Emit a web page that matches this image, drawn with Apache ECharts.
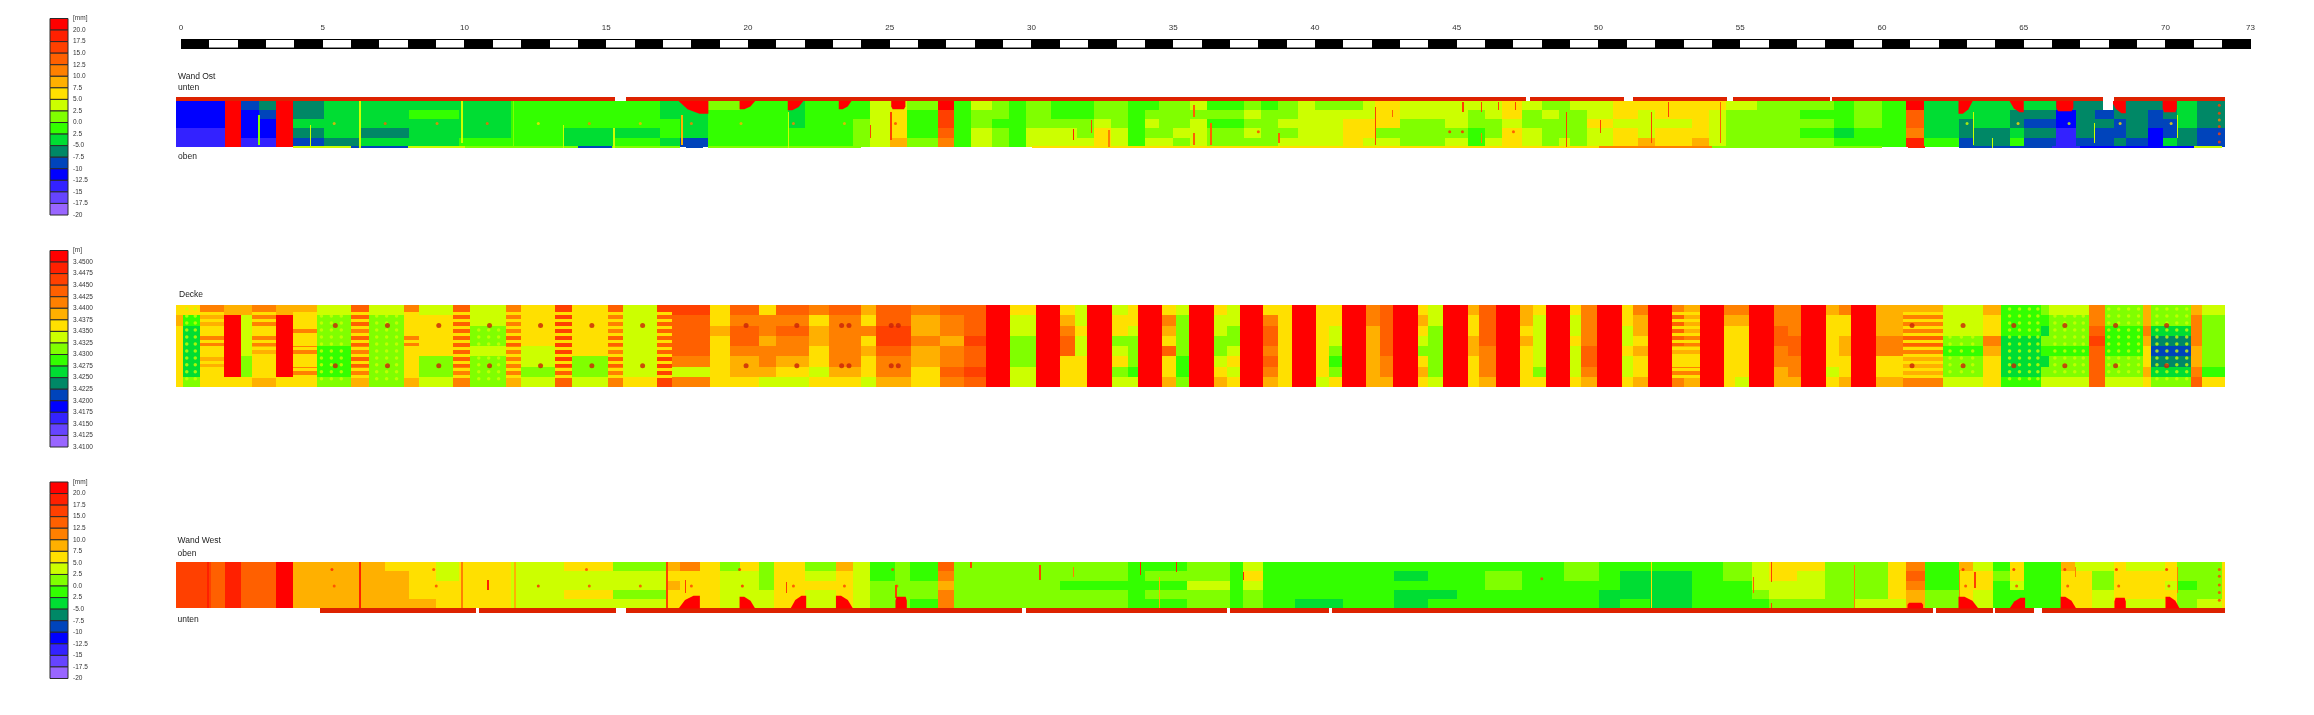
<!DOCTYPE html>
<html lang="de">

<head>
    <meta charset="UTF-8" />
    <title>Wand Ost / Decke / Wand West</title>
    <script src="https://cdn.jsdelivr.net/npm/echarts@6/dist/echarts.min.js"></script>
    <style>
        html, body { margin: 0; background: #fff; }
        #main { width: 2314px; height: 715px; }
    </style>
</head>

<body>
    <div id="main"></div>

    <script type="text/javascript">
        // colour classes, top of the legend first
        var palette = ['#ff0000', '#ff2000', '#ff4000', '#ff6000', '#ff8000', '#ffb000', '#ffe000', '#ccff00', '#80ff00',
            '#33ff00', '#00dd33', '#008866', '#0044bb', '#0000ff', '#3322ff', '#6644ff', '#9966ff'];
        var mmLabels = ['[mm]', '20.0', '17.5', '15.0', '12.5', '10.0', '7.5', '5.0', '2.5', '0.0', '2.5', '-5.0', '-7.5', '-10', '-12.5', '-15', '-17.5', '-20'];
        var mLabels = ['[m]', '3.4500', '3.4475', '3.4450', '3.4425', '3.4400', '3.4375', '3.4350', '3.4325', '3.4300', '3.4275', '3.4250', '3.4225', '3.4200', '3.4175', '3.4150', '3.4125', '3.4100'];
        var scaleLabels = [0, 5, 10, 15, 20, 25, 30, 35, 40, 45, 50, 55, 60, 65, 70, 73];
        var scaleWhite = [1, 3, 5, 7, 9, 11, 13, 15, 17, 19, 21, 23, 25, 27, 29, 31, 33, 35, 37, 39, 41, 43, 45, 47, 49, 51, 53, 55, 57, 59, 61, 63, 65, 67, 69, 71];

        // Wand Ost: [from m, to m, five values in mm from top to bottom]
        var ostColumns = [
            [-0.18, 1.55, -12.5, -12.5, -12.5, -15, -15], [1.55, 2.12, 20, 20, 20, 20, 20], [2.12, 2.75, -10, -12.5, -12.5, -12.5, -15],
            [2.75, 3.33, -7.5, -10, -12.5, -12.5, -15], [3.33, 3.93, 20, 20, 20, 20, 20], [3.93, 5.05, -7.5, -7.5, -5, -7.5, -10],
            [5.05, 6.28, -5, -5, -5, -5, -7.5], [6.28, 8.05, -5, -5, -5, -7.5, -5], [8.05, 9.8, -5, -2.5, -5, -5, -5],
            [9.8, 11.65, -5, -5, -5, -5, -2.5], [11.65, 13.5, -2.5, -2.5, -2.5, -2.5, -2.5], [13.5, 15.25, -2.5, -2.5, -2.5, -5, -5],
            [15.25, 16.9, -2.5, -2.5, -2.5, -5, -2.5], [16.9, 17.6, -5, -5, -2.5, -2.5, -5], [17.6, 18.6, -5, -5, -5, -5, -10],
            [18.6, 19.7, 0, -2.5, -2.5, -2.5, -2.5], [19.7, 20.4, -2.5, -2.5, -2.5, -2.5, -2.5], [20.4, 21.4, -2.5, -2.5, -2.5, -2.5, -2.5],
            [21.4, 22, -5, -5, -5, -2.5, -2.5], [22, 23.2, -2.5, -2.5, -2.5, -2.5, -2.5], [23.2, 23.7, -2.5, -2.5, -2.5, -2.5, -2.5],
            [23.7, 24.3, -2.5, -2.5, 0, 0, 0], [24.3, 25, 2.5, 2.5, 2.5, 2.5, 2.5], [25, 25.6, 2.5, 5, 5, 5, 7.5],
            [25.6, 26.7, 0, -2.5, -2.5, -2.5, 0], [26.7, 27.28, 20, 15, 15, 12.5, 10], [27.28, 27.85, -2.5, -2.5, -2.5, -2.5, -2.5],
            [27.85, 28.6, 2.5, 0, 0, 2.5, 2.5], [28.6, 29.2, 0, 0, -2.5, 0, 0], [29.2, 29.8, -2.5, -2.5, -2.5, -2.5, -2.5],
            [29.8, 30.7, 0, 0, 0, 2.5, 2.5], [30.7, 31.6, -2.5, -2.5, 0, 2.5, 2.5], [31.6, 32.2, -2.5, -2.5, 0, 0, 2.5],
            [32.2, 32.8, 0, 0, 2.5, 5, 5], [32.8, 33.4, 0, 0, 0, 2.5, 2.5], [33.4, 34, -2.5, -2.5, -2.5, -2.5, -2.5],
            [34, 34.5, -2.5, 0, 2.5, 0, 2.5], [34.5, 35, 0, 0, 0, 0, 2.5], [35, 35.6, 0, 0, 0, 2.5, 0],
            [35.6, 36.2, 2.5, 0, 2.5, 2.5, 2.5], [36.2, 36.9, -2.5, 0, -2.5, 0, 0], [36.9, 37.5, -2.5, 0, -2.5, 0, 0],
            [37.5, 38.1, 0, 2.5, 0, 2.5, 0], [38.1, 38.7, -2.5, 0, 0, 0, 0], [38.7, 39.4, 0, 0, 2.5, 0, 2.5],
            [39.4, 40, 2.5, 2.5, 2.5, 2.5, 2.5], [40, 41, 0, 2.5, 2.5, 2.5, 2.5], [41, 41.7, 0, 2.5, 5, 5, 5],
            [41.7, 42.1, 2.5, 2.5, 5, 5, 2.5], [42.1, 43, 5, 5, 5, 0, 2.5], [43, 43.5, 2.5, 2.5, 0, 0, 0],
            [43.5, 44.6, 2.5, 2.5, 0, 0, 0], [44.6, 45.4, 2.5, 2.5, 2.5, 0, 2.5], [45.4, 46, 2.5, 0, 0, -2.5, -2.5],
            [46, 46.6, 2.5, 2.5, 0, 0, 2.5], [46.6, 47.3, 5, 5, 2.5, 5, 5], [47.3, 48, 2.5, 0, 0, 2.5, 2.5],
            [48, 48.6, 0, 2.5, 0, 0, 0], [48.6, 49, 0, 0, 0, 0, 2.5], [49, 49.6, 2.5, 0, 0, 0, 0],
            [49.6, 50.5, 2.5, 2.5, 5, 2.5, 2.5], [50.5, 51.4, 5, 5, 2.5, 5, 5], [51.4, 52, 5, 2.5, 2.5, 2.5, 7.5],
            [52, 53.3, 5, 5, 2.5, 5, 5], [53.3, 53.9, 5, 5, 5, 5, 7.5], [53.9, 54.5, 5, 2.5, 2.5, 2.5, 2.5],
            [54.5, 55.6, 2.5, 0, 0, 0, 0], [55.6, 57.1, 0, 0, 0, 0, 0], [57.1, 58.3, 0, -2.5, 0, -2.5, 0],
            [58.3, 59, -2.5, -2.5, -2.5, -5, -2.5], [59, 60, 0, 0, 0, -2.5, -2.5], [60, 60.86, -2.5, -2.5, -2.5, -2.5, -2.5],
            [60.86, 61.48, 20, 12.5, 12.5, 10, 17.5], [61.48, 62.7, -5, -5, -5, -5, -2.5], [62.7, 63.2, -5, -5, -7.5, -7.5, -10],
            [63.2, 64.5, -5, -5, -5, -7.5, -7.5], [64.5, 65, -5, -7.5, -7.5, -5, -2.5], [65, 66.14, -5, -7.5, -10, -7.5, -10],
            [66.14, 66.84, -7.5, -12.5, -12.5, -15, -15], [66.84, 67.5, -7.5, -7.5, -7.5, -7.5, -10], [67.5, 68.17, -7.5, -10, -7.5, -10, -10],
            [68.17, 68.6, -7.5, -7.5, -10, -10, -7.5], [68.6, 69.4, -7.5, -7.5, -7.5, -7.5, -10], [69.4, 69.9, -7.5, -10, -10, -12.5, -12.5],
            [69.9, 70.4, -7.5, -7.5, -10, -10, -5], [70.4, 71.1, -5, -5, -5, -7.5, -7.5], [71.1, 72.1, -7.5, -7.5, -7.5, -10, -10]
        ];
        var ostBand = [[-0.18, 15.3], [15.7, 47.45], [47.6, 50.9], [51.2, 54.55], [54.75, 58.15], [58.25, 67.8], [68.2, 72.1]];
        var ostHoles = [[67.8, 68.15, 0.08, 0.25]];
        // [from m, to m, depth in the strip, straight side: 0 left, 1 right, 2 both]
        var ostNotches = [
            [17.55, 18.6, 0.33, 1], [19.7, 20.25, 0.24, 0], [21.4, 21.95, 0.26, 0], [23.2, 23.65, 0.24, 0], [25.05, 25.55, 0.24, 2],
            [62.7, 63.2, 0.33, 0], [64.5, 65, 0.3, 1], [66.15, 66.75, 0.28, 2], [68.1, 68.6, 0.32, 1], [69.9, 70.4, 0.3, 2]
        ];
        // thin last line of the strip: [from m, to m, value]
        var ostEdge = [
            [3.93, 6, 2.5], [6, 8, -10], [8, 10, 2.5], [10, 14, 0], [14, 15.2, -10], [15.2, 17.6, 0], [17.8, 18.4, -10], [18.6, 24, 0], [30, 50, 5], [50, 54, 10],
            [54, 60, 0], [60.9, 61.5, 17.5], [62.7, 66, -10], [66, 67, -15], [67, 71, -12.5], [71, 72, 2.5]
        ];
        // [x, from, to, value]
        var ostSeams = [
            [2.72, 0.35, 0.95, 0], [4.53, 0.55, 1, 2.5], [6.28, 0.08, 1, 2.5], [9.88, 0.08, 0.9, 2.5], [11.7, 0.08, 1, 0], [13.47, 0.55, 1, 2.5],
            [15.25, 0.6, 1, 2.5], [17.65, 0.35, 0.95, 7.5], [21.4, 0.3, 1, 2.5], [24.3, 0.55, 0.8, 15], [25.02, 0.3, 0.85, 15], [31.45, 0.63, 0.85, 17.5],
            [32.7, 0.65, 0.98, 10], [32.08, 0.45, 0.7, 15], [35.7, 0.15, 0.4, 12.5], [35.7, 0.7, 0.95, 12.5], [36.3, 0.5, 0.95, 12.5], [38.7, 0.7, 0.9, 12.5],
            [42.1, 0.2, 0.95, 15], [42.7, 0.25, 0.4, 12.5], [45.2, 0.1, 0.3, 15], [45.85, 0.1, 0.3, 15], [45.85, 0.7, 0.9, 10], [46.45, 0.1, 0.25, 15],
            [47.05, 0.1, 0.25, 15], [48.85, 0.3, 0.98, 15], [50.05, 0.45, 0.7, 15], [51.85, 0.3, 0.9, 15], [52.44, 0.1, 0.4, 15], [54.27, 0.1, 0.9, 12.5],
            [63.2, 0.3, 0.95, 2.5], [67.47, 0.5, 0.9, 2.5], [70.4, 0.35, 0.8, 2.5], [63.87, 0.8, 1, 2.5]
        ];
        // [x, y, value]
        var ostSpots = [
            [5.4, 0.52, 7.5], [7.2, 0.52, 12.5], [9.03, 0.52, 10], [10.8, 0.52, 12.5], [12.6, 0.52, 5], [14.4, 0.52, 10], [16.2, 0.52, 7.5], [18, 0.52, 10],
            [19.75, 0.52, 7.5], [21.6, 0.52, 10], [23.4, 0.52, 7.5], [25.2, 0.52, 15], [44.75, 0.68, 17.5], [45.2, 0.68, 17.5], [47, 0.68, 15], [38, 0.68, 15],
            [63, 0.52, 2.5], [64.8, 0.52, 5], [66.6, 0.52, 2.5], [68.4, 0.52, 5], [70.2, 0.52, 5],
            [71.9, 0.16, 15], [71.9, 0.32, 15], [71.9, 0.45, 10], [71.9, 0.58, 15], [71.9, 0.72, 15], [71.9, 0.88, 15]
        ];

        // Decke: [from m, to m, eight values from top to bottom], value = 0.1 mm above 3.4000 m
        var deckeColumns = [
            [-0.18, 0.05, 350, 375, 350, 350, 350, 350, 350, 350], [0.05, 0.67, 350, 275, 250, 250, 250, 250, 250, 300],
            [0.67, 1.5, 400, 375, 350, 400, 350, 375, 350, 350], [1.5, 2.12, 375, 500, 500, 500, 500, 500, 500, 350],
            [2.12, 2.5, 375, 325, 325, 325, 325, 300, 300, 350], [2.5, 3.33, 400, 400, 350, 400, 375, 350, 350, 375],
            [3.33, 3.93, 375, 500, 500, 500, 500, 500, 500, 350], [3.93, 4.8, 375, 350, 400, 350, 400, 350, 400, 350],
            [4.8, 6, 325, 300, 300, 300, 275, 275, 275, 300], [6, 6.63, 425, 425, 400, 425, 400, 425, 400, 375],
            [6.63, 7.85, 325, 300, 300, 300, 300, 300, 300, 300], [7.85, 8.4, 400, 350, 350, 400, 350, 350, 350, 375],
            [8.4, 9.6, 325, 350, 350, 350, 350, 300, 300, 325], [9.6, 10.2, 425, 425, 425, 425, 425, 425, 400, 400],
            [10.2, 11.45, 325, 325, 300, 300, 325, 300, 300, 300], [11.45, 12, 400, 400, 400, 425, 400, 400, 400, 375],
            [12, 13.2, 350, 350, 350, 350, 325, 325, 300, 325], [13.2, 13.8, 450, 450, 450, 450, 450, 450, 425, 425],
            [13.8, 15.05, 350, 350, 350, 350, 350, 300, 300, 325], [15.05, 15.6, 425, 400, 400, 425, 400, 425, 400, 400],
            [15.6, 16.8, 325, 325, 325, 325, 325, 325, 325, 350], [16.8, 17.3, 450, 425, 425, 425, 425, 450, 450, 450],
            [17.3, 18.65, 450, 425, 425, 425, 425, 400, 325, 400], [18.65, 19.35, 350, 350, 375, 350, 350, 350, 350, 350],
            [19.35, 20.4, 425, 400, 425, 425, 400, 375, 375, 350], [20.4, 21, 350, 400, 400, 375, 400, 400, 375, 325],
            [21, 22.15, 425, 400, 425, 400, 400, 375, 350, 325], [22.15, 22.85, 400, 350, 375, 375, 350, 350, 325, 350],
            [22.85, 24, 425, 400, 400, 400, 400, 400, 375, 350], [24, 24.5, 375, 350, 400, 350, 375, 350, 350, 325],
            [24.5, 25.75, 425, 425, 450, 450, 425, 400, 400, 375], [25.75, 26.77, 400, 375, 375, 400, 375, 375, 350, 350],
            [26.77, 27.6, 425, 400, 400, 375, 400, 400, 425, 400], [27.6, 28.39, 425, 425, 425, 450, 425, 425, 450, 425],
            [29.25, 30.15, 350, 325, 325, 300, 300, 300, 325, 325], [30.99, 31.55, 350, 375, 400, 425, 425, 350, 350, 350],
            [31.55, 31.96, 325, 325, 350, 325, 325, 350, 350, 350], [32.83, 33.4, 325, 350, 350, 300, 325, 350, 300, 325],
            [33.4, 33.76, 350, 350, 325, 300, 300, 300, 275, 325], [34.59, 35.1, 350, 400, 375, 350, 425, 350, 350, 375],
            [35.1, 35.57, 325, 300, 300, 300, 300, 275, 275, 300], [36.44, 36.9, 350, 325, 325, 300, 300, 325, 350, 375],
            [36.9, 37.35, 325, 325, 300, 300, 325, 350, 325, 350], [38.18, 38.7, 350, 400, 425, 425, 400, 425, 400, 375],
            [38.7, 39.18, 350, 350, 350, 350, 350, 350, 350, 350], [40.04, 40.5, 350, 350, 350, 350, 350, 350, 350, 325],
            [40.5, 40.94, 350, 350, 325, 325, 300, 275, 300, 350], [41.79, 42.3, 400, 400, 375, 375, 375, 375, 375, 375],
            [42.3, 42.75, 425, 425, 425, 425, 425, 400, 400, 375], [43.62, 44, 350, 375, 350, 325, 300, 350, 375, 350],
            [44, 44.53, 325, 325, 300, 300, 300, 300, 300, 325], [45.4, 45.8, 375, 350, 350, 375, 375, 350, 350, 350],
            [45.8, 46.39, 425, 425, 425, 425, 400, 400, 400, 375], [47.24, 47.7, 375, 375, 350, 375, 350, 350, 350, 350],
            [47.7, 48.15, 350, 325, 325, 325, 325, 325, 300, 350], [49, 49.4, 350, 325, 325, 350, 325, 325, 325, 350],
            [49.4, 49.95, 400, 400, 400, 400, 425, 425, 400, 375], [50.83, 51.2, 350, 350, 325, 325, 350, 325, 325, 350],
            [51.2, 51.73, 400, 375, 375, 350, 375, 350, 350, 375], [52.59, 53, 400, 425, 425, 425, 375, 350, 400, 400],
            [53, 53.57, 375, 375, 375, 400, 375, 350, 400, 375], [54.43, 54.8, 400, 375, 350, 350, 350, 350, 350, 350],
            [54.8, 55.32, 400, 375, 350, 350, 350, 350, 350, 325], [56.19, 56.7, 400, 400, 425, 425, 400, 400, 375, 375],
            [56.7, 57.16, 400, 400, 400, 425, 425, 400, 400, 375], [58.02, 58.5, 375, 350, 350, 350, 350, 350, 325, 350],
            [58.5, 58.91, 400, 350, 350, 375, 375, 350, 350, 375], [59.78, 60.75, 375, 375, 375, 400, 400, 350, 350, 375],
            [60.75, 62.15, 375, 400, 400, 425, 400, 375, 375, 400], [62.15, 63.56, 325, 325, 325, 300, 275, 300, 300, 325],
            [63.56, 64.2, 375, 350, 350, 400, 375, 350, 350, 350], [64.2, 65.6, 275, 275, 275, 250, 250, 250, 250, 275],
            [65.6, 65.9, 300, 275, 250, 300, 275, 250, 300, 325], [65.9, 67.3, 325, 300, 300, 300, 275, 300, 300, 325],
            [67.3, 67.85, 400, 400, 425, 450, 425, 425, 425, 425], [67.85, 69.2, 300, 300, 275, 275, 275, 300, 300, 325],
            [69.2, 69.5, 375, 375, 400, 375, 350, 350, 375, 350], [69.5, 70.9, 300, 300, 250, 225, 200, 225, 250, 300],
            [70.9, 71.3, 375, 400, 400, 400, 375, 375, 400, 425], [71.3, 72.1, 325, 300, 300, 300, 300, 300, 275, 350]
        ];
        var deckeBars = [
            [28.39, 29.25], [30.15, 30.99], [31.96, 32.83], [33.76, 34.59], [35.57, 36.44], [37.35, 38.18], [39.18, 40.04], [40.94, 41.79], [42.75, 43.62],
            [44.53, 45.4], [46.39, 47.24], [48.15, 49], [49.95, 50.83], [51.73, 52.59], [53.57, 54.43], [55.32, 56.19], [57.16, 58.02], [58.91, 59.78]
        ];
        var deckeBoltX = [5.44, 7.28, 9.09, 10.88, 12.68, 14.49, 16.28, 19.93, 21.72, 23.3, 23.56, 25.05, 25.3, 61.06, 62.86, 64.65, 66.45, 68.24, 70.04];
        var deckeBoltY = [0.25, 0.74];
        var deckeDotX = [0.2, 0.5, 4.95, 5.3, 5.65, 6.9, 7.25, 7.6, 10.5, 10.85, 11.2, 62.4, 62.8, 63.2, 64.5, 64.85, 65.2, 65.5, 66.1, 66.45, 66.8, 67.1, 68, 68.35, 68.7, 69.05, 69.7, 70.05, 70.4, 70.75];
        var deckeDotY = [0.05, 0.135, 0.22, 0.305, 0.39, 0.475, 0.56, 0.645, 0.73, 0.815, 0.9];
        // columns with the yellow cross lines between the orange dashes
        var deckeStripeCols = [[0.67, 1.5], [2.5, 3.33], [3.93, 4.8], [6, 6.63], [7.85, 8.4], [9.6, 10.2], [11.45, 12], [13.2, 13.8], [15.05, 15.6], [16.8, 17.3], [52.59, 53.57], [60.75, 62.15]];
        var deckeStripeY = [0.09, 0.175, 0.26, 0.345, 0.43, 0.515, 0.6, 0.685, 0.77, 0.855];

        // Wand West: [from m, to m, five values in mm from top to bottom]
        var westColumns = [
            [-0.18, 1.05, 15, 15, 15, 15, 15], [1.05, 1.55, 12.5, 12.5, 12.5, 12.5, 12.5], [1.55, 2.12, 17.5, 17.5, 17.5, 17.5, 17.5],
            [2.12, 2.7, 12.5, 12.5, 12.5, 12.5, 12.5], [2.7, 3.33, 12.5, 12.5, 12.5, 12.5, 12.5], [3.33, 3.93, 20, 20, 20, 20, 20],
            [3.93, 5, 7.5, 7.5, 7.5, 7.5, 7.5], [5, 6.28, 7.5, 7.5, 7.5, 7.5, 7.5], [6.28, 7.2, 7.5, 7.5, 7.5, 7.5, 7.5],
            [7.2, 8.05, 5, 7.5, 7.5, 7.5, 7.5], [8.05, 9, 5, 5, 5, 5, 7.5], [9, 9.8, 2.5, 2.5, 5, 5, 5],
            [9.8, 11.65, 5, 5, 5, 5, 5], [11.65, 13.5, 2.5, 2.5, 2.5, 2.5, 2.5], [13.5, 15.25, 5, 2.5, 2.5, 5, 2.5],
            [15.25, 17.1, 0, 2.5, 2.5, 0, 2.5], [17.1, 17.6, 7.5, 5, 7.5, 5, 5], [17.6, 18.3, 10, 5, 5, 5, 5],
            [18.3, 19, 5, 5, 5, 5, 5], [19, 19.7, 0, 2.5, 2.5, 2.5, 2.5], [19.7, 20.4, 5, 2.5, 2.5, 2.5, 2.5],
            [20.4, 20.9, 0, 0, 0, 2.5, 2.5], [20.9, 21.5, 5, 5, 5, 5, 5], [21.5, 22, 5, 5, 5, 5, 5],
            [22, 23.1, 0, 2.5, 5, 2.5, 2.5], [23.1, 23.7, 7.5, 5, 5, 5, 5], [23.7, 24.3, 2.5, 2.5, 2.5, 2.5, 2.5],
            [24.3, 25.2, -2.5, -2.5, 0, 0, 0], [25.2, 25.7, 0, 0, 0, 0, 0], [25.7, 26.7, -2.5, -2.5, 0, 0, -2.5],
            [26.7, 27.28, 12.5, 10, 7.5, 10, 10], [27.28, 27.85, 0, 0, 0, 0, 0], [27.85, 31, 0, 0, 0, 0, 0],
            [31, 33.4, 0, 0, -2.5, 0, 0], [33.4, 34, -2.5, -2.5, -2.5, -2.5, -2.5], [34, 35.5, -2.5, 0, -2.5, 0, -2.5],
            [35.5, 37, 0, 0, 2.5, 0, 0], [37, 37.45, -2.5, -2.5, -2.5, -2.5, -2.5], [37.45, 38.15, 2.5, 5, 2.5, 0, 0],
            [38.15, 39.3, -2.5, -2.5, -2.5, -2.5, -2.5], [39.3, 41, -2.5, -2.5, -2.5, -2.5, -5], [41, 42.8, -2.5, -2.5, -2.5, -2.5, -2.5],
            [42.8, 44, -2.5, -5, -2.5, -5, -5], [44, 45, -2.5, -2.5, -2.5, -5, -2.5], [45, 46, -2.5, -2.5, -2.5, -2.5, -2.5],
            [46, 47.3, -2.5, 0, 0, -2.5, -2.5], [47.3, 48.8, -2.5, -2.5, -2.5, -2.5, -2.5], [48.8, 50, 0, 0, -2.5, -2.5, -2.5],
            [50, 50.76, -2.5, -2.5, -2.5, -5, -5], [50.76, 51.8, -2.5, -5, -5, -5, -2.5], [51.8, 53.3, -2.5, -5, -5, -5, -5],
            [53.3, 54.4, -2.5, -2.5, -2.5, -2.5, -2.5], [54.4, 55.4, 0, 0, -2.5, -2.5, -2.5], [55.4, 56, 2.5, 2.5, 2.5, 0, -2.5],
            [56, 57, 5, 5, 2.5, 2.5, 0], [57, 58, 5, 2.5, 2.5, 2.5, 0], [58, 59, 0, 0, 0, 0, 0],
            [59, 60.2, 0, 0, 0, 0, 2.5], [60.2, 60.85, 5, 5, 5, 5, 2.5], [60.85, 61.5, 10, 12.5, 10, 7.5, 7.5],
            [61.5, 62.7, -2.5, -2.5, -2.5, 0, 0], [62.7, 63.2, 7.5, 5, 5, 5, 5], [63.2, 63.9, 2.5, 5, 5, 2.5, 2.5],
            [63.9, 64.5, -2.5, 0, -2.5, -2.5, -2.5], [64.5, 65, 5, 5, 2.5, -2.5, -2.5], [65, 66.3, -2.5, -2.5, -2.5, -2.5, -2.5],
            [66.3, 66.8, 7.5, 5, 5, 5, 5], [66.8, 67.4, 2.5, 5, 5, 5, 5], [67.4, 68.2, 2.5, 0, 0, 2.5, 2.5],
            [68.2, 68.6, 5, 5, 5, 5, 5], [68.6, 70, 2.5, 5, 5, 5, 2.5], [70, 70.4, 5, 5, 2.5, 5, 5],
            [70.4, 71.1, 0, 0, -2.5, 0, 0], [71.1, 72, 0, 0, 0, 0, 2.5], [72, 72.1, 5, 5, 5, 5, 5]
        ];
        var westBand = [[4.9, 10.4], [10.5, 15.35], [15.7, 29.65], [29.8, 36.9], [37, 40.5], [40.6, 61.8], [61.9, 63.9], [64, 65.35], [65.65, 72.1]];
        var westNotches = [
            [17.55, 18.3, 0.66, 1], [19.7, 20.25, 0.68, 0], [21.5, 22.05, 0.66, 1], [23.1, 23.7, 0.66, 0], [25.2, 25.6, 0.68, 2], [60.9, 61.45, 0.8, 2],
            [62.7, 63.4, 0.68, 0], [64.5, 65.05, 0.7, 1], [66.3, 66.85, 0.68, 0], [68.2, 68.6, 0.7, 2], [70, 70.5, 0.68, 0]
        ];
        var westSeams = [
            [0.93, 0, 0.91, 17.5], [6.28, 0, 0.91, 17.5], [9.88, 0, 0.91, 10], [11.75, 0, 0.91, 7.5], [10.8, 0.35, 0.55, 17.5], [17.12, 0, 0.91, 15],
            [17.77, 0.35, 0.6, 15], [21.33, 0.4, 0.6, 15], [25.2, 0.45, 0.7, 15], [27.84, 0, 0.12, 15], [30.28, 0.05, 0.35, 15], [31.46, 0.1, 0.3, 10],
            [33.82, 0, 0.25, 17.5], [34.48, 0.3, 0.9, 7.5], [35.08, 0, 0.2, 17.5], [37.45, 0.2, 0.35, 17.5], [51.85, 0, 0.9, 5], [55.44, 0.3, 0.6, 12.5],
            [56.07, 0, 0.4, 15], [56.07, 0.8, 0.95, 15], [59, 0.05, 0.9, 10], [62.7, 0.15, 0.7, 10], [63.25, 0.2, 0.5, 15], [66.8, 0.1, 0.3, 10], [70.4, 0.1, 0.6, 10]
        ];
        var westSpots = [
            [5.32, 0.145, 17.5], [5.4, 0.47, 15], [8.91, 0.145, 15], [9, 0.47, 15], [12.6, 0.47, 17.5], [14.3, 0.145, 15], [14.4, 0.47, 15], [16.2, 0.47, 15],
            [18, 0.47, 15], [19.7, 0.145, 17.5], [19.8, 0.47, 17.5], [21.6, 0.47, 15], [23.4, 0.47, 15], [25.1, 0.145, 15], [25.25, 0.47, 15], [48, 0.33, 15],
            [62.86, 0.145, 17.5], [62.95, 0.47, 15], [64.65, 0.145, 17.5], [64.75, 0.47, 15], [66.45, 0.145, 17.5], [66.55, 0.47, 15], [68.27, 0.145, 17.5],
            [68.35, 0.47, 15], [70.04, 0.145, 17.5], [70.12, 0.47, 15], [71.9, 0.145, 15], [71.9, 0.28, 15], [71.9, 0.45, 15], [71.9, 0.6, 15], [71.9, 0.75, 15]
        ];

        // value -> position in the palette
        function mmClass(v) { return Math.round((20 - v) / 2.5); }
        function deckeClass(v) { return Math.round((500 - v) / 25); }

        // fills that are not in the legend
        var extraFills = { white: '#ffffff', band: '#dd2200', black: '#000000', gray: '#8c8c8c', bolt: '#c8200a' };
        var fillNames = Object.keys(extraFills);

        // columns -> [x0, x1, y0, y1, fill]
        function columnBlocks(columns, top, bottom, toClass) {
            var out = [];
            columns.forEach(function (c) {
                var n = c.length - 2;
                for (var i = 0; i < n; i++) {
                    out.push([c[0], c[1], top + (bottom - top) * i / n, top + (bottom - top) * (i + 1) / n, toClass(c[i + 2])]);
                }
            });
            return out;
        }
        function seamBlocks(seams) {
            return seams.map(function (s) { return [s[0], s[0] + 0.05, s[1], s[2], mmClass(s[3])]; });
        }
        function spanBlocks(list, y0, y1, fill) {
            return list.map(function (b) { return [b[0], b[1], y0, y1, fill]; });
        }
        function fillOf(code) {
            return code >= 100 ? extraFills[fillNames[code - 100]] : palette[code];
        }

        // one filled rectangle, everything through the axes of its grid
        function blockItem(params, api) {
            var a = api.coord([api.value(0), api.value(2)]);
            var b = api.coord([api.value(1), api.value(3)]);
            var x = Math.round(a[0]), y = Math.round(a[1]);
            return {
                type: 'rect',
                shape: { x: x, y: y, width: Math.max(1, Math.round(b[0]) - x), height: Math.max(1, Math.round(b[1]) - y) },
                style: { fill: fillOf(api.value(4)) }
            };
        }
        // red notch at a window: one side straight, the other one rounded off
        function notchItem(params, api) {
            var x0 = api.value(0), x1 = api.value(1), base = api.value(2), tip = api.value(3), side = api.value(4);
            var w = x1 - x0, mid = base + (tip - base) * 0.65;
            var pts;
            if (side === 0) pts = [[x0, base], [x1, base], [x0 + w * 0.7, mid], [x0 + w * 0.3, tip], [x0, tip]];
            else if (side === 1) pts = [[x0, base], [x1, base], [x1, tip], [x1 - w * 0.3, tip], [x1 - w * 0.7, mid]];
            else pts = [[x0, base], [x1, base], [x1, mid], [x1 - w * 0.1, tip], [x0 + w * 0.1, tip], [x0, mid]];
            return {
                type: 'polygon',
                shape: { points: pts.map(function (p) { return api.coord(p); }) },
                style: { fill: palette[0] }
            };
        }
        function legendItem(params, api) {
            var a = api.coord([0, api.value(0)]);
            var b = api.coord([1, api.value(0) + 1]);
            return {
                type: 'rect',
                shape: { x: a[0], y: a[1], width: b[0] - a[0], height: b[1] - a[1] },
                style: { fill: palette[api.value(0)], stroke: '#2a2a2a', lineWidth: 1 }
            };
        }

        function blocks(grid, data, z) {
            return { type: 'custom', xAxisIndex: grid, yAxisIndex: grid, data: data, renderItem: blockItem, silent: true, z: z };
        }
        function notches(grid, list, base) {
            return {
                type: 'custom', xAxisIndex: grid, yAxisIndex: grid, renderItem: notchItem, silent: true, z: 4,
                data: list.map(function (n) { return [n[0], n[1], base, n[2], n[3]]; })
            };
        }
        function spots(grid, data, size) {
            return {
                type: 'scatter', xAxisIndex: grid, yAxisIndex: grid, symbol: 'circle', symbolSize: size, silent: true, z: 5,
                data: data.map(function (d) { return { value: [d[0], d[1]], itemStyle: { color: d[2] } }; })
            };
        }
        function cross(xs, ys, color) {
            var out = [];
            xs.forEach(function (x) { ys.forEach(function (y) { out.push([x, y, color]); }); });
            return out;
        }
        function spotColours(list) {
            return list.map(function (s) { return [s[0], s[1], palette[mmClass(s[2])]]; });
        }
        function stripeBlocks() {
            var out = [];
            deckeStripeCols.forEach(function (c) {
                deckeStripeY.forEach(function (y) { out.push([c[0], c[1], y, y + 0.035, deckeClass(350)]); });
            });
            return out;
        }

        // grids: 0 scale bar, 1-3 strips, 4-6 legends
        var grids = [
            { left: 181, top: 39, width: 2069.5, height: 9.7 },
            { left: 176, top: 97, width: 2049, height: 51 },
            { left: 176, top: 305, width: 2049, height: 82 },
            { left: 176, top: 562, width: 2049, height: 51 },
            { left: 50, top: 18.5, width: 18, height: 196.5 },
            { left: 50, top: 250.5, width: 18, height: 196.5 },
            { left: 50, top: 482, width: 18, height: 196.5 }
        ];
        var xAxes = [{
            gridIndex: 0, type: 'value', min: 0, max: 73, position: 'top',
            axisLine: { show: false }, axisTick: { show: false }, splitLine: { show: false },
            axisLabel: { customValues: scaleLabels, margin: 7, fontSize: 8, color: '#333', fontFamily: 'Liberation Sans' }
        }];
        var yAxes = [];
        [0, 1, 2, 3].forEach(function (g) {
            if (g > 0) xAxes.push({ gridIndex: g, type: 'value', min: -0.18, max: 72.1, show: false });
            yAxes.push({ gridIndex: g, type: 'value', min: 0, max: 1, inverse: true, show: false });
        });
        [mmLabels, mLabels, mmLabels].forEach(function (labels, i) {
            xAxes.push({ gridIndex: i + 4, type: 'value', min: 0, max: 1, show: false });
            yAxes.push({
                gridIndex: i + 4, type: 'value', min: 0, max: 17, interval: 1, inverse: true, position: 'right',
                axisLine: { show: false }, axisTick: { show: false }, splitLine: { show: false },
                axisLabel: {
                    margin: 5, fontSize: 6.5, color: '#333', fontFamily: 'Liberation Sans',
                    formatter: function (v) { return labels[v]; }
                }
            });
        });

        var WHITE = 100, BAND = 101, BLACK = 102, GRAY = 103;
        var series = [
            // scale bar
            blocks(0, [[0, 73, 0, 1, BLACK]], 1),
            blocks(0, spanBlocks(scaleWhite.map(function (m) { return [m, m + 1]; }), 0.1, 0.95, GRAY), 2),
            blocks(0, spanBlocks(scaleWhite.map(function (m) { return [m, m + 1]; }), 0.1, 0.8, WHITE), 3),
            // Wand Ost
            blocks(1, columnBlocks(ostColumns, 0.08, 0.975, mmClass), 1),
            blocks(1, ostEdge.map(function (e) { return [e[0], e[1], 0.965, 1, mmClass(e[2])]; }), 2),
            blocks(1, seamBlocks(ostSeams), 2),
            blocks(1, spanBlocks(ostBand, 0, 0.08, BAND), 3),
            notches(1, ostNotches, 0.08),
            blocks(1, ostHoles.map(function (h) { return [h[0], h[1], h[2], h[3], WHITE]; }), 5),
            spots(1, spotColours(ostSpots), 3),
            // Decke
            blocks(2, columnBlocks(deckeColumns, 0, 1, deckeClass), 1),
            blocks(2, stripeBlocks(), 2),
            blocks(2, spanBlocks(deckeBars, 0, 1, deckeClass(500)), 3),
            spots(2, cross(deckeDotX, deckeDotY, palette[deckeClass(325)]), 3.5),
            spots(2, cross(deckeBoltX, deckeBoltY, extraFills.bolt), 5),
            // Wand West
            blocks(3, columnBlocks(westColumns, 0, 0.91, mmClass), 1),
            blocks(3, seamBlocks(westSeams), 2),
            blocks(3, spanBlocks(westBand, 0.91, 1, BAND), 3),
            notches(3, westNotches, 0.91),
            spots(3, spotColours(westSpots), 3)
        ];
        [4, 5, 6].forEach(function (g) {
            series.push({
                type: 'custom', xAxisIndex: g, yAxisIndex: g, silent: true, renderItem: legendItem,
                encode: { y: 0 }, data: palette.map(function (c, i) { return [i]; })
            });
        });

        function caption(text, x, y) {
            return { type: 'text', x: x, y: y, style: { text: text, fill: '#222', fontSize: 8.5, fontFamily: 'Liberation Sans', textVerticalAlign: 'middle' } };
        }

        var myChart = echarts.init(document.getElementById('main'));
        myChart.setOption({
            animation: false,
            backgroundColor: '#ffffff',
            grid: grids,
            xAxis: xAxes,
            yAxis: yAxes,
            series: series,
            graphic: [
                caption('Wand Ost', 178, 77),
                caption('unten', 178, 87.5),
                caption('oben', 178, 156.5),
                caption('Decke', 179, 295),
                caption('Wand West', 177.5, 541),
                caption('oben', 177.5, 553.5),
                caption('unten', 177.5, 620)
            ]
        });
    </script>
</body>

</html>
